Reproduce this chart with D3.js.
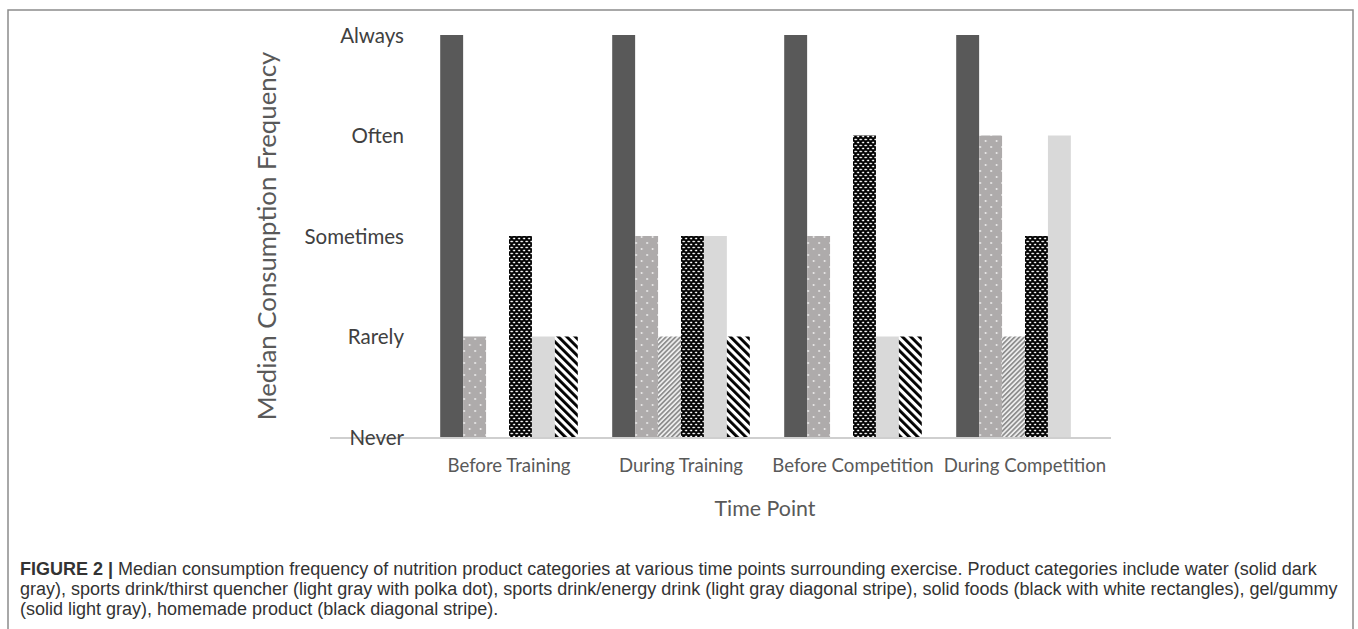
<!DOCTYPE html>
<html lang="en">
<head>
    <meta charset="UTF-8">
    <script src="https://cdn.jsdelivr.net/npm/d3@7"></script>
    <title>Median Consumption Frequency</title>
    <style>
        body { margin: 0; background: white; }
        svg { display: block; }
        .tick-y { font-family: Lato, sans-serif; font-size: 20.5px; fill: #404040; }
        .tick-x { font-family: Lato, sans-serif; font-size: 18.6px; fill: #595959; }
        .axis-title { font-family: Lato, sans-serif; fill: #595959; }
        .caption { font-family: "Liberation Sans", Arial, sans-serif; font-size: 18px; fill: #333; }
    </style>
</head>
<body>
    <div id="chart"></div>

    <script>
        // data: 0 = Never ... 4 = Always
        const timePoints = ["Before Training", "During Training", "Before Competition", "During Competition"];
        const products = ["water", "thirstQuencher", "energyDrink", "solidFoods", "gelGummy", "homemade"];
        const levels = ["Never", "Rarely", "Sometimes", "Often", "Always"];

        const water          = [4, 4, 4, 4];
        const thirstQuencher = [1, 2, 2, 3];
        const energyDrink    = [0, 1, 0, 1];
        const solidFoods     = [2, 2, 3, 2];
        const gelGummy       = [1, 2, 1, 3];
        const homemade       = [1, 1, 1, 0];

        const captionLines = [
            "Median consumption frequency of nutrition product categories at various time points surrounding exercise. Product categories include water (solid dark",
            "gray), sports drink/thirst quencher (light gray with polka dot), sports drink/energy drink (light gray diagonal stripe), solid foods (black with white rectangles), gel/gummy",
            "(solid light gray), homemade product (black diagonal stripe)."
        ];

        const seriesValues = { water, thirstQuencher, energyDrink, solidFoods, gelGummy, homemade };

        const width = 1358, height = 629;
        const svg = d3.select("#chart").append("svg")
            .attr("width", width)
            .attr("height", height);

        // fill patterns
        const defs = svg.append("defs");

        let p = defs.append("pattern").attr("id", "dots")
            .attr("patternUnits", "userSpaceOnUse").attr("width", 11).attr("height", 12);
        p.append("rect").attr("width", 11).attr("height", 12).attr("fill", "#aeabab");
        p.append("circle").attr("cx", 2).attr("cy", 3).attr("r", 0.9).attr("fill", "#f4f4f4");
        p.append("circle").attr("cx", 7.5).attr("cy", 9).attr("r", 0.9).attr("fill", "#f4f4f4");

        p = defs.append("pattern").attr("id", "grayStripe")
            .attr("patternUnits", "userSpaceOnUse").attr("width", 3.4).attr("height", 10)
            .attr("patternTransform", "rotate(45)");
        p.append("rect").attr("width", 3.4).attr("height", 10).attr("fill", "#f2f2f2");
        p.append("rect").attr("width", 1.8).attr("height", 10).attr("fill", "#8f8f8f");

        p = defs.append("pattern").attr("id", "blackRects")
            .attr("patternUnits", "userSpaceOnUse").attr("width", 5).attr("height", 6);
        p.append("rect").attr("width", 5).attr("height", 6).attr("fill", "#000");
        p.append("rect").attr("x", 0.2).attr("y", 0.8).attr("width", 2.7).attr("height", 1.5).attr("rx", 0.7).attr("fill", "#fff");
        p.append("rect").attr("x", 2.7).attr("y", 3.8).attr("width", 2.7).attr("height", 1.5).attr("rx", 0.7).attr("fill", "#fff");

        p = defs.append("pattern").attr("id", "blackStripe")
            .attr("patternUnits", "userSpaceOnUse").attr("width", 6).attr("height", 10)
            .attr("patternTransform", "rotate(-45)");
        p.append("rect").attr("width", 6).attr("height", 10).attr("fill", "#ffffff");
        p.append("rect").attr("width", 2.9).attr("height", 10).attr("fill", "#000000");

        const fills = {
            water: "#595959",
            thirstQuencher: "url(#dots)",
            energyDrink: "url(#grayStripe)",
            solidFoods: "url(#blackRects)",
            gelGummy: "#d9d9d9",
            homemade: "url(#blackStripe)"
        };

        // scales
        const x0 = d3.scaleBand().domain(timePoints).range([423, 1111])
            .paddingInner(0.2).paddingOuter(0.1);
        const x1 = d3.scaleBand().domain(products).range([0, x0.bandwidth()]);
        const y = d3.scaleLinear().domain([0, levels.length - 1]).range([437, 35]);

        // outer frame
        svg.append("path")
            .attr("d", "M8,629V10H1353V629")
            .attr("fill", "none")
            .attr("stroke", "#8c8c8c")
            .attr("stroke-width", 1.5);

        // bars
        const groups = svg.selectAll("g.group")
            .data(timePoints)
            .join("g")
            .attr("class", "group")
            .attr("transform", d => `translate(${x0(d)},0)`);

        groups.selectAll("rect")
            .data((d, i) => products.map(k => ({ key: k, value: seriesValues[k][i] })))
            .join("rect")
            .attr("x", d => x1(d.key))
            .attr("y", d => y(d.value))
            .attr("width", x1.bandwidth())
            .attr("height", d => y(0) - y(d.value))
            .attr("fill", d => fills[d.key]);

        // x axis line (plot area runs further left than the first band)
        svg.append("line")
            .attr("x1", 330).attr("x2", x0.range()[1])
            .attr("y1", y(0) + 1).attr("y2", y(0) + 1)
            .attr("stroke", "#bfbfbf")
            .attr("stroke-width", 1.5);

        // x tick labels
        svg.append("g")
            .attr("transform", `translate(0,${y(0)})`)
            .call(d3.axisBottom(x0).tickSize(0))
            .call(g => g.select(".domain").remove())
            .call(g => g.selectAll("text")
                .attr("class", "tick-x")
                .attr("y", 35).attr("dy", 0));

        // y tick labels
        svg.append("g")
            .attr("transform", "translate(404,0)")
            .call(d3.axisLeft(y).ticks(levels.length - 1).tickSize(0).tickFormat(d => levels[d]))
            .call(g => g.select(".domain").remove())
            .call(g => g.selectAll("text")
                .attr("class", "tick-y")
                .attr("x", 0).attr("dy", "0.36em")
                .attr("text-anchor", "end"));

        // axis titles
        svg.append("text")
            .attr("class", "axis-title")
            .attr("transform", "translate(276,236) rotate(-90)")
            .attr("text-anchor", "middle")
            .style("font-size", "25.8px")
            .text("Median Consumption Frequency");

        svg.append("text")
            .attr("class", "axis-title")
            .attr("x", 765).attr("y", 516)
            .attr("text-anchor", "middle")
            .style("font-size", "21.4px")
            .text("Time Point");

        // caption
        const cap = svg.append("g").attr("class", "caption");
        captionLines.forEach((line, i) => {
            const t = cap.append("text").attr("x", 20).attr("y", 575 + i * 20);
            if (i === 0) {
                t.append("tspan").attr("font-weight", "bold").text("FIGURE 2 | ");
            }
            t.append("tspan").text(line);
        });
    </script>
</body>
</html>
